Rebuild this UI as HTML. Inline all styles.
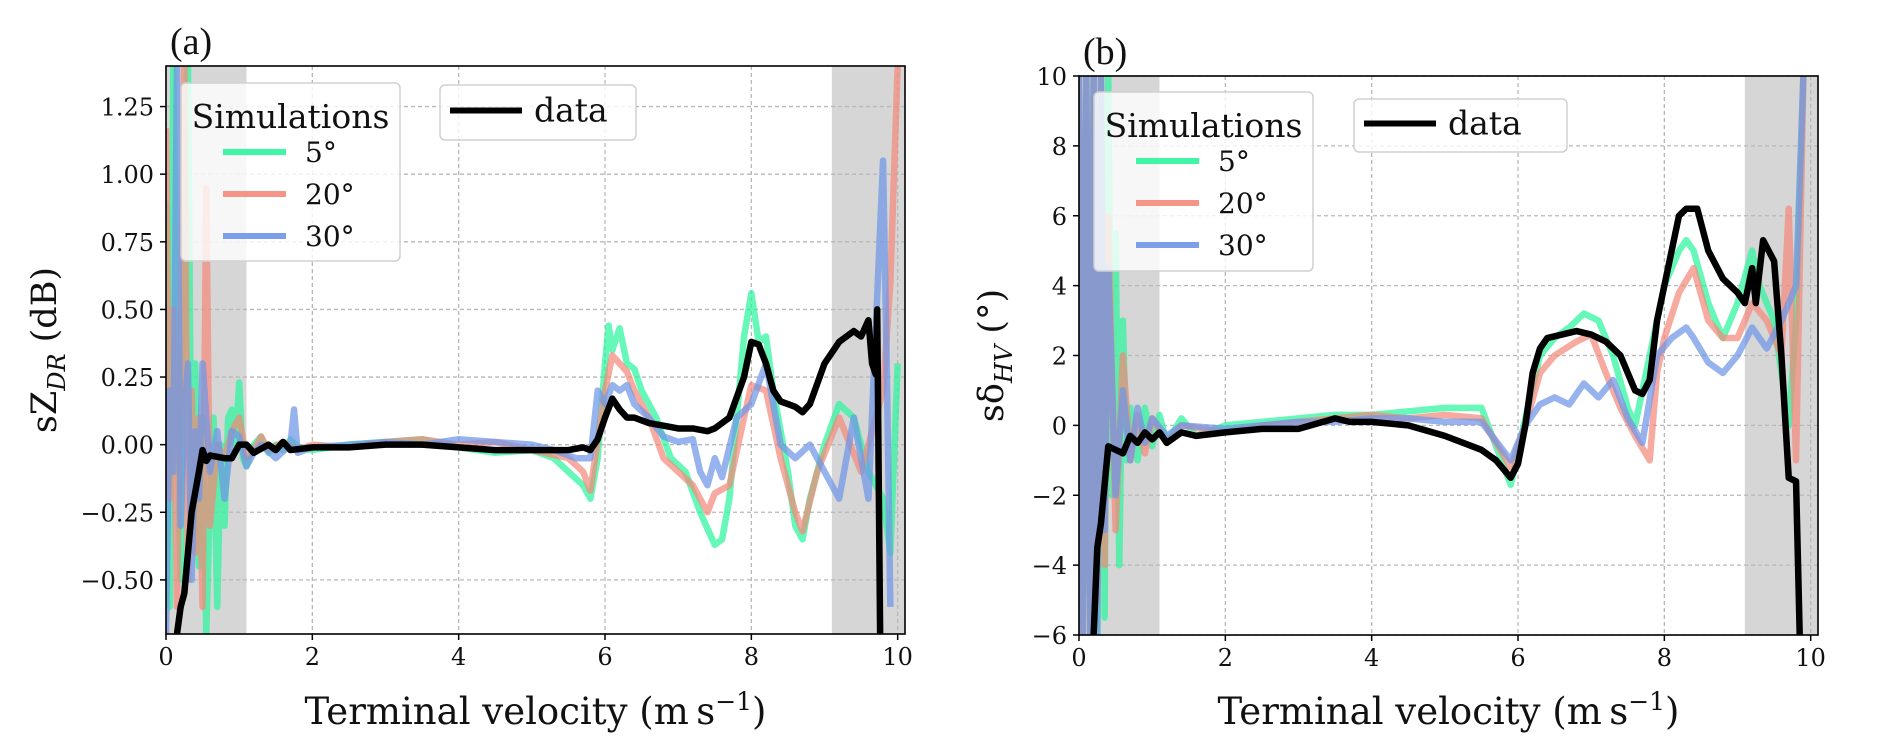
<!DOCTYPE html>
<html><head><meta charset="utf-8"><style>
html,body{margin:0;padding:0;background:#fff;}
svg{display:block;font-family:"DejaVu Serif","Liberation Serif",serif;}
</style></head><body>
<svg id="fig" width="1892" height="746" viewBox="0 0 1892 746" xmlns="http://www.w3.org/2000/svg"></svg>
<script>
// ---------- Panel (a) data: sZDR (dB) ----------
const aDataX=[0.15,0.2,0.25,0.35,0.45,0.5,0.55,0.6,0.8,0.9,1.0,1.1,1.2,1.4,1.5,1.6,1.7,2.0,2.5,3.0,3.5,4.0,4.5,5.0,5.5,5.7,5.8,5.9,6.0,6.1,6.2,6.3,6.4,6.6,6.8,7.0,7.2,7.4,7.5,7.7,7.9,8.0,8.1,8.2,8.3,8.4,8.5,8.6,8.7,8.8,9.0,9.2,9.4,9.5,9.6,9.65,9.7,9.72,9.76];
const aDataY=[-0.7,-0.6,-0.55,-0.25,-0.1,-0.02,-0.06,-0.04,-0.05,-0.05,0.0,0.0,-0.03,0.0,-0.02,0.01,-0.02,-0.01,-0.01,0.0,0.0,-0.01,-0.02,-0.02,-0.02,-0.01,-0.02,0.02,0.1,0.17,0.13,0.1,0.1,0.08,0.07,0.06,0.06,0.05,0.06,0.1,0.25,0.38,0.37,0.3,0.2,0.16,0.15,0.14,0.12,0.15,0.3,0.38,0.42,0.4,0.46,0.3,0.26,0.5,-0.7];
const aS5X=[0.0,0.05,0.1,0.15,0.2,0.25,0.3,0.35,0.4,0.45,0.5,0.55,0.6,0.65,0.7,0.75,0.8,0.85,0.9,0.95,1.0,1.05,1.1,1.2,1.3,1.4,1.5,1.6,1.7,1.8,2.0,2.5,3.0,3.5,4.0,4.5,5.0,5.3,5.5,5.7,5.8,5.9,6.0,6.05,6.1,6.2,6.3,6.4,6.5,6.7,6.9,7.1,7.3,7.5,7.6,7.7,7.9,8.0,8.1,8.2,8.3,8.5,8.6,8.7,8.8,9.0,9.2,9.4,9.6,9.8,9.9,10.0];
const aS5Y=[0.9,-0.6,1.4,0.2,-0.5,0.6,1.4,-0.3,0.3,-0.45,0.1,-0.7,-0.2,0.1,-0.6,0.0,-0.3,0.1,0.13,0.0,0.23,-0.05,-0.08,0.0,0.03,-0.03,0.0,-0.02,0.02,-0.01,-0.02,0.0,0.01,0.02,-0.01,-0.03,-0.02,-0.05,-0.1,-0.15,-0.2,-0.05,0.3,0.44,0.35,0.43,0.3,0.28,0.2,0.1,-0.05,-0.1,-0.25,-0.37,-0.35,-0.2,0.4,0.56,0.38,0.4,0.2,-0.1,-0.3,-0.35,-0.2,0.0,0.15,0.1,-0.1,-0.2,-0.4,0.3];
const aS20X=[0.0,0.05,0.1,0.15,0.2,0.25,0.3,0.35,0.4,0.45,0.5,0.55,0.6,0.7,0.8,0.9,1.0,1.1,1.2,1.3,1.4,1.6,1.8,2.0,2.5,3.0,3.5,4.0,4.5,5.0,5.5,5.7,5.8,6.0,6.1,6.3,6.4,6.6,6.8,7.0,7.2,7.4,7.5,7.7,7.9,8.0,8.2,8.4,8.6,8.7,8.9,9.2,9.5,9.8,9.9,10.0];
const aS20Y=[1.17,-0.2,0.5,-0.6,0.3,1.4,-0.5,0.2,-0.4,0.1,-0.6,0.95,-0.3,0.0,-0.05,0.05,0.1,-0.05,-0.02,0.03,-0.02,0.01,-0.02,0.0,-0.01,0.01,0.02,0.0,0.01,-0.02,-0.05,-0.1,-0.17,0.2,0.33,0.27,0.2,0.1,-0.05,-0.1,-0.15,-0.25,-0.18,-0.15,0.1,0.22,0.2,-0.05,-0.25,-0.32,-0.1,0.1,-0.1,0.2,0.6,1.4];
const aS30X=[0.0,0.05,0.1,0.15,0.2,0.25,0.3,0.35,0.4,0.45,0.5,0.6,0.7,0.8,0.9,1.0,1.1,1.2,1.3,1.5,1.7,1.75,1.8,2.0,2.5,3.0,3.5,4.0,4.5,5.0,5.3,5.6,5.8,5.9,6.0,6.1,6.2,6.3,6.4,6.6,6.8,7.0,7.2,7.3,7.4,7.5,7.6,7.8,8.0,8.2,8.4,8.6,8.8,9.0,9.2,9.4,9.6,9.8,9.85,9.9];
const aS30Y=[-0.7,0.2,-0.1,1.4,-0.3,0.1,0.3,-0.5,0.05,-0.2,0.3,-0.1,0.05,-0.2,0.05,0.03,-0.08,-0.03,0.0,-0.05,0.0,0.13,-0.03,-0.01,0.0,0.01,0.0,0.02,0.01,0.0,-0.02,-0.05,-0.05,0.2,0.15,0.22,0.2,0.22,0.15,0.1,0.03,0.01,0.02,-0.1,-0.15,-0.05,-0.12,0.1,0.15,0.3,0.0,-0.05,0.0,-0.1,-0.2,0.1,-0.2,1.05,0.3,-0.6];
const aYTicks=[-0.5,-0.25,0,0.25,0.5,0.75,1.0,1.25];
const aYTickLabels=["\u22120.50","\u22120.25","0.00","0.25","0.50","0.75","1.00","1.25"];
// ---------- Panel (b) data: sdeltaHV (deg) ----------
const bDataX=[0.2,0.25,0.3,0.4,0.5,0.6,0.7,0.8,0.9,1.0,1.1,1.2,1.4,1.6,2.0,2.5,3.0,3.5,3.7,4.0,4.5,5.0,5.5,5.7,5.9,6.0,6.1,6.2,6.3,6.4,6.6,6.8,7.0,7.2,7.4,7.6,7.7,7.8,7.9,8.0,8.1,8.2,8.3,8.45,8.6,8.8,9.0,9.1,9.2,9.25,9.35,9.5,9.6,9.7,9.8,9.85];
const bDataY=[-6,-3.5,-2.8,-0.6,-0.7,-0.8,-0.3,-0.5,-0.2,-0.4,-0.2,-0.5,-0.2,-0.3,-0.2,-0.1,-0.1,0.2,0.1,0.1,0.0,-0.3,-0.7,-1.0,-1.5,-1.1,0.0,1.5,2.2,2.5,2.6,2.7,2.6,2.4,2.0,1.0,0.9,1.3,3.0,4.0,5.0,6.0,6.2,6.2,5.0,4.2,3.8,3.5,4.5,3.5,5.3,4.7,2.0,-1.5,-1.6,-6];
const bS5X=[0.0,0.05,0.1,0.15,0.2,0.25,0.3,0.35,0.4,0.45,0.5,0.55,0.6,0.65,0.7,0.8,0.9,1.0,1.1,1.2,1.4,1.6,2.0,2.5,3.0,3.5,4.0,4.5,5.0,5.5,5.9,6.1,6.3,6.5,6.7,6.9,7.1,7.3,7.5,7.6,7.8,8.0,8.2,8.3,8.4,8.6,8.8,9.0,9.2,9.3,9.5,9.7,9.8,9.9];
const bS5Y=[10,-6,10,-6,10,-6,10,-5.5,10,-2,5.5,-4,3,-1,0.5,-1,0.5,-0.6,0.3,-0.5,0.2,-0.3,0.0,0.1,0.2,0.3,0.3,0.4,0.5,0.5,-1.7,0.2,2.0,2.5,2.8,3.2,3.0,2.0,0.5,0.0,2.0,4.0,5.0,5.3,5.0,3.5,2.5,3.5,5.0,4.0,3.0,0.0,3.0,10];
const bS20X=[0.0,0.05,0.1,0.15,0.2,0.25,0.3,0.35,0.4,0.5,0.6,0.7,0.8,0.9,1.0,1.2,1.4,2.0,2.5,3.0,3.5,4.0,4.5,5.0,5.5,5.9,6.1,6.3,6.5,6.8,7.0,7.2,7.4,7.6,7.8,7.9,8.0,8.2,8.4,8.6,8.8,9.0,9.2,9.4,9.6,9.7,9.8,9.9];
const bS20Y=[10,-6,10,-6,10,-5,10,-4,6,-3,2,-1,0.3,-0.8,0.2,-0.5,0.0,-0.2,0.0,0.1,0.2,0.3,0.2,0.3,0.2,-1.2,0.0,1.5,2.0,2.4,2.6,1.5,0.5,-0.3,-1.0,1.5,2.5,3.8,4.5,3.0,2.5,2.5,3.5,3.0,2.0,6.2,-1.0,10];
const bS30X=[0.0,0.05,0.1,0.15,0.2,0.25,0.3,0.35,0.4,0.5,0.6,0.7,0.8,0.9,1.0,1.2,1.4,2.0,2.5,3.0,3.5,4.0,4.5,5.0,5.5,5.9,6.1,6.3,6.5,6.7,6.9,7.1,7.3,7.5,7.7,7.9,8.1,8.3,8.4,8.6,8.8,9.0,9.2,9.4,9.6,9.8,9.9];
const bS30Y=[10,-6,10,-6,10,-6,10,-3,4.5,-2,1,-1,0.5,-0.5,0.2,-0.3,0.0,-0.1,0.0,0.1,0.1,0.2,0.2,0.1,0.1,-1.0,0.0,0.6,0.8,0.6,1.2,0.8,1.3,0.2,-0.5,2.0,2.5,2.8,2.5,1.8,1.5,2.0,2.8,2.2,3.0,4.0,10];
const bYTicks=[-6,-4,-2,0,2,4,6,8,10];
const bYTickLabels=["\u22126","\u22124","\u22122","0","2","4","6","8","10"];
const xTicks=[0,2,4,6,8,10];
const xTickLabels=["0","2","4","6","8","10"];
const seriesNames=["5\u00b0","20\u00b0","30\u00b0"];

const NS="http://www.w3.org/2000/svg";
const svg=document.getElementById('fig');
function mk(tag,attrs,parent){const e=document.createElementNS(NS,tag);for(const k in attrs)e.setAttribute(k,attrs[k]);(parent||svg).appendChild(e);return e;}
const COLORS=["#2af59c","#f4897a","#6f95e8"];

function panel(cfg){
  const {L,R,T,B,ymin,ymax,xmin,xmax,id}=cfg;
  const sx=v=>L+(v-xmin)/(xmax-xmin)*(R-L);
  const sy=v=>B-(v-ymin)/(ymax-ymin)*(B-T);
  const g=mk('g',{});
  
  
  const cp=mk('clipPath',{id:'clip-'+id},g);
  mk('rect',{x:L,y:T,width:R-L,height:B-T},cp);
  const bands=[[0,1.1],[9.1,xmax]];
  bands.forEach((b,i)=>{const r=mk('rect',{x:sx(b[0]),y:T,width:sx(b[1])-sx(b[0]),height:B-T,fill:'#d6d6d6'},g);
    
    });
  xTicks.forEach(t=>{const l=mk('line',{x1:sx(t),x2:sx(t),y1:T,y2:B,stroke:'#b8b8b8','stroke-width':1.3,'stroke-dasharray':'4,3'},g);
    
    });
  cfg.yTicks.forEach(t=>{const l=mk('line',{x1:L,x2:R,y1:sy(t),y2:sy(t),stroke:'#b8b8b8','stroke-width':1.3,'stroke-dasharray':'4,3'},g);
    
    });
  const lg=mk('g',{'clip-path':'url(#clip-'+id+')'},g);
  cfg.sims.forEach((s,i)=>{
    const p=mk('polyline',{points:s[0].map((x,j)=>sx(x)+','+sy(s[1][j])).join(' '),fill:'none',stroke:COLORS[i],'stroke-width':6.5,'stroke-opacity':0.72,'stroke-linejoin':'round'},lg);
    
    
  });
  const dp=mk('polyline',{points:cfg.data[0].map((x,j)=>sx(x)+','+sy(cfg.data[1][j])).join(' '),fill:'none',stroke:'#000','stroke-width':6.5,'stroke-linejoin':'round'},lg);
  
  
  const fr=mk('rect',{x:L,y:T,width:R-L,height:B-T,fill:'none',stroke:'#000','stroke-width':1.6},g);
  
  
  xTicks.forEach((t,i)=>{mk('line',{x1:sx(t),x2:sx(t),y1:B,y2:B+6,stroke:'#000','stroke-width':1.5},g);
    const tx=mk('text',{x:sx(t),y:B+31,'font-size':24,'text-anchor':'middle',fill:'#111'},g);tx.textContent=xTickLabels[i];
    
    });
  cfg.yTicks.forEach((t,i)=>{mk('line',{x1:L-6,x2:L,y1:sy(t),y2:sy(t),stroke:'#000','stroke-width':1.5},g);
    const tx=mk('text',{x:L-12,y:sy(t)+9,'font-size':24,'text-anchor':'end',fill:'#111'},g);tx.textContent=cfg.yLabels[i];
    
    });
  const xl=mk('text',{x:(L+R)/2,y:724,'font-size':37,'text-anchor':'middle',fill:'#111'},g);
  xl.innerHTML='Terminal velocity (m\u2009s<tspan dy="-14" font-size="25">\u22121</tspan><tspan dy="14">)</tspan>';
  
  
  const pl=mk('text',{x:L+4,y:T-12,'font-size':38,fill:'#111','font-family':'Liberation Serif, serif'},g);
  pl.textContent=cfg.letter;
  
  
  const yl=mk('text',{x:0,y:0,'font-size':35,'text-anchor':'middle',fill:'#111',transform:`translate(${cfg.ylx},${(T+B)/2}) rotate(-90)`},g);
  yl.innerHTML=cfg.ylabel;
  
  
  const lb=cfg.leg;
  const box=mk('rect',{x:lb.x,y:lb.y,width:lb.w,height:lb.h,rx:5,fill:'#fff','fill-opacity':0.8,stroke:'#d0d0d0','stroke-width':1.5},g);
  
  
  const lt=mk('text',{x:lb.x+lb.w/2,y:lb.y+45,'font-size':33,'text-anchor':'middle',fill:'#111'},g);lt.textContent='Simulations';
  
  
  seriesNames.forEach((n,i)=>{const yy=lb.y+69+i*42;
    const ln=mk('line',{x1:lb.x+42,x2:lb.x+105,y1:yy,y2:yy,stroke:COLORS[i],'stroke-width':6,'stroke-opacity':0.9},g);
    
    
    const t=mk('text',{x:lb.x+124,y:yy+10,'font-size':28,fill:'#111'},g);t.textContent=n;
    
    });
  const db=cfg.dleg;
  const box2=mk('rect',{x:db.x,y:db.y,width:db.w,height:db.h,rx:5,fill:'#fff','fill-opacity':0.8,stroke:'#d0d0d0','stroke-width':1.5},g);
  
  
  const dl=mk('line',{x1:db.x+10,x2:db.x+82,y1:db.y+db.h/2-2,y2:db.y+db.h/2-2,stroke:'#000','stroke-width':6},g);
  
  
  const dt=mk('text',{x:db.x+94,y:db.y+db.h/2+9,'font-size':33,fill:'#111'},g);dt.textContent='data';
  
  
}

panel({id:'a',letter:'(a)',L:166,R:905,T:66,B:634,xmin:0,xmax:10.1,ymin:-0.7,ymax:1.4,
  yTicks:aYTicks,yLabels:aYTickLabels,ylx:56,
  ylabel:'sZ<tspan dy="9" font-size="24" font-style="italic">DR</tspan><tspan dy="-9"> (dB)</tspan>',
  sims:[[aS5X,aS5Y],[aS20X,aS20Y],[aS30X,aS30Y]],data:[aDataX,aDataY],
  leg:{x:181,y:83,w:219,h:178},dleg:{x:440,y:85,w:196,h:55}});
panel({id:'b',letter:'(b)',L:1079,R:1818,T:76,B:635,xmin:0,xmax:10.1,ymin:-6,ymax:10,
  yTicks:bYTicks,yLabels:bYTickLabels,ylx:1003,
  ylabel:'s\u03b4<tspan dy="9" font-size="24" font-style="italic">HV</tspan><tspan dy="-9"> (\u00b0)</tspan>',
  sims:[[bS5X,bS5Y],[bS20X,bS20Y],[bS30X,bS30Y]],data:[bDataX,bDataY],
  leg:{x:1094,y:92,w:219,h:179},dleg:{x:1354,y:99,w:213,h:53}});
</script>
</body></html>
